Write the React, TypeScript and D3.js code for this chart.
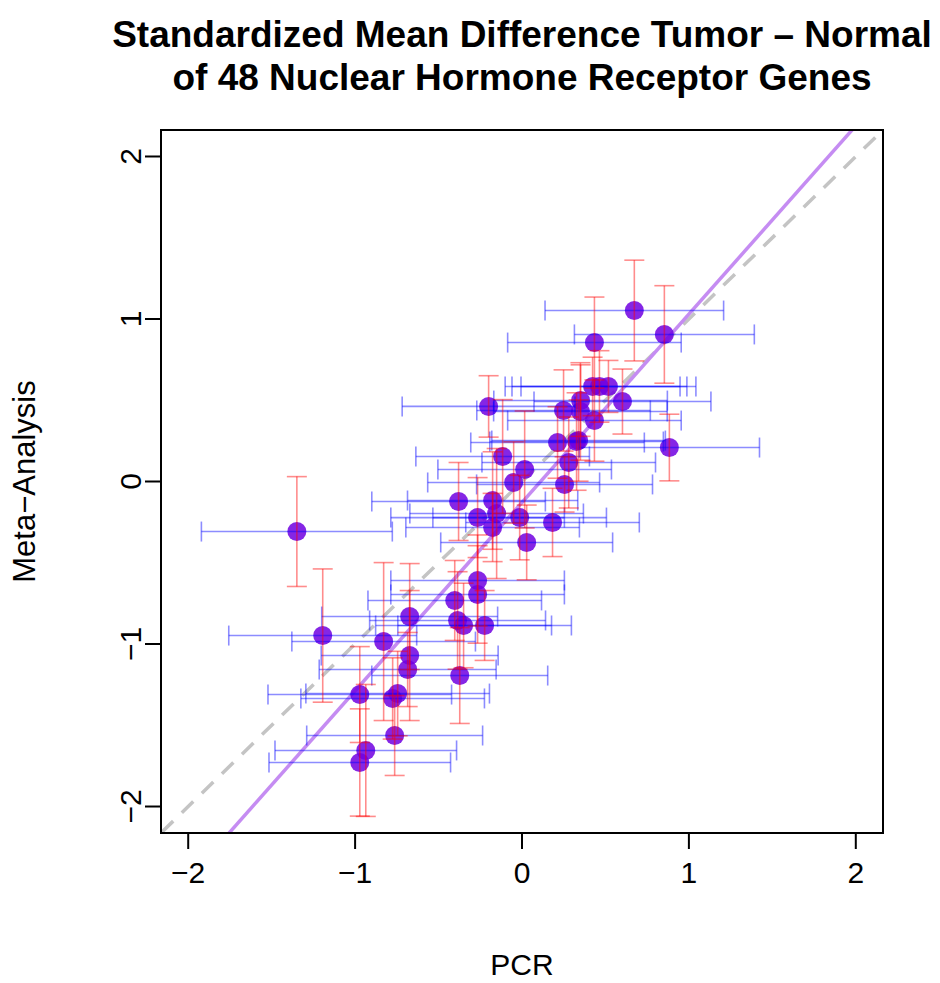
import React from "react";
import * as d3 from "d3";

// PCR standardized mean difference (x) and Meta-analysis SMD (y), with half-widths of CIs
const pcrValues = [0.673, 0.853, 0.434, 0.423, 0.464, 0.518, 0.602, -0.2, 0.351, 0.35, 0.249, 0.434, 0.339, 0.327, 0.213, 0.28, 0.883, -0.116, 0.016, -0.05, 0.255, -0.38, -0.176, -0.266, -0.152, -0.176, -0.014, 0.183, 0.028, -1.349, -0.266, -0.266, -0.403, -0.386, -0.35, -0.224, -0.373, -1.194, -0.829, -0.673, -0.673, -0.685, -0.972, -0.745, -0.775, -0.763, -0.936, -0.972];
const metaValues = [1.052, 0.905, 0.855, 0.585, 0.585, 0.585, 0.492, 0.462, 0.498, 0.431, 0.437, 0.375, 0.252, 0.246, 0.24, 0.117, 0.209, 0.154, 0.074, -0.006, -0.018, -0.123, -0.117, -0.222, -0.197, -0.283, -0.222, -0.252, -0.375, -0.308, -0.609, -0.695, -0.732, -0.855, -0.886, -0.886, -1.194, -0.948, -0.985, -0.831, -1.071, -1.157, -1.311, -1.305, -1.335, -1.563, -1.655, -1.729];
const pcrErr = [0.535, 0.539, 0.52, 0.524, 0.524, 0.524, 0.53, 0.518, 0.52, 0.52, 0.52, 0.52, 0.52, 0.52, 0.52, 0.52, 0.54, 0.52, 0.52, 0.515, 0.527, 0.52, 0.51, 0.52, 0.52, 0.52, 0.52, 0.52, 0.515, 0.572, 0.52, 0.52, 0.52, 0.527, 0.527, 0.52, 0.527, 0.563, 0.55, 0.527, 0.53, 0.53, 0.55, 0.55, 0.55, 0.527, 0.544, 0.544];
const metaErr = [0.31, 0.3, 0.28, 0.18, 0.22, 0.16, 0.2, 0.189, 0.22, 0.3, 0.25, 0.25, 0.25, 0.3, 0.22, 0.28, 0.205, 0.35, 0.36, 0.25, 0.17, 0.24, 0.3, 0.246, 0.4, 0.21, 0.26, 0.21, 0.23, 0.338, 0.28, 0.3, 0.246, 0.3, 0.26, 0.215, 0.295, 0.41, 0.486, 0.326, 0.4, 0.228, 0.295, 0.26, 0.25, 0.246, 0.406, 0.33];

const tickValues = [-2, -1, 0, 1, 2];
const tickLabels = ["\u22122", "\u22121", "0", "1", "2"];
const fitSlope = 1.159;
const fitIntercept = -0.129;

const titleLines = ["Standardized Mean Difference Tumor \u2013 Normal", "of 48 Nuclear Hormone Receptor Genes"];
const xLabel = "PCR";
const yLabel = "Meta\u2212Analysis";

export default function App() {
  const W = 940, H = 983;
  const left = 161, right = 883, top = 130, bottom = 833;
  const lim = 2.163;
  const x = d3.scaleLinear().domain([-lim, lim]).range([left, right]);
  const y = d3.scaleLinear().domain([-lim, lim]).range([bottom, top]);
  const cap = 10;
  const font = "'Liberation Sans', Arial, Helvetica, sans-serif";

  const pts = pcrValues.map((v, i) => ({ x: v, y: metaValues[i], ex: pcrErr[i], ey: metaErr[i] }));
  const lineGen = d3.line<[number, number]>().x(d => x(d[0])).y(d => y(d[1]));
  const ext = [-3, 3];
  const identity = lineGen(ext.map(v => [v, v] as [number, number]));
  const fit = lineGen(ext.map(v => [v, fitIntercept + fitSlope * v] as [number, number]));

  return (
    <svg width={W} height={H} style={{ position: "absolute", left: 0, top: 0, background: "#fff" }} fontFamily={font}>
      <defs>
        <clipPath id="plotclip">
          <rect x={left} y={top} width={right - left} height={bottom - top} />
        </clipPath>
      </defs>
      <rect x={0} y={0} width={W} height={H} fill="#fff" />
      {titleLines.map((t, i) => (
        <text key={i} x={(left + right) / 2} y={47 + i * 43} textAnchor="middle" fontSize={37} fontWeight="bold" fill="#000">{t}</text>
      ))}
      <g clipPath="url(#plotclip)">
        <path d={identity ?? ""} stroke="#c4c4c4" strokeWidth={3.5} strokeDasharray="16,12" fill="none" />
        <path d={fit ?? ""} stroke="#c58cf2" strokeWidth={3.5} fill="none" />
        {pts.map((p, i) => (
          <circle key={"c" + i} cx={x(p.x)} cy={y(p.y)} r={9.5} fill="#7000e0" fillOpacity={0.85} />
        ))}
        {pts.map((p, i) => {
          const cy = y(p.y);
          const x0 = x(p.x - p.ex), x1 = x(p.x + p.ex);
          return (
            <g key={"bx" + i} stroke="#0000ff" strokeOpacity={0.45} strokeWidth={1.6} fill="none">
              <line x1={x0} x2={x1} y1={cy} y2={cy} />
              <line x1={x0} x2={x0} y1={cy - cap} y2={cy + cap} />
              <line x1={x1} x2={x1} y1={cy - cap} y2={cy + cap} />
            </g>
          );
        })}
        {pts.map((p, i) => {
          const cx = x(p.x);
          const y0 = y(p.y - p.ey), y1 = y(p.y + p.ey);
          return (
            <g key={"by" + i} stroke="#ff0000" strokeOpacity={0.45} strokeWidth={1.6} fill="none">
              <line x1={cx} x2={cx} y1={y0} y2={y1} />
              <line x1={cx - cap} x2={cx + cap} y1={y0} y2={y0} />
              <line x1={cx - cap} x2={cx + cap} y1={y1} y2={y1} />
            </g>
          );
        })}
      </g>
      <rect x={left} y={top} width={right - left} height={bottom - top} fill="none" stroke="#000" strokeWidth={2} />
      <g stroke="#000" strokeWidth={2}>
        <line x1={x(-2)} x2={x(2)} y1={bottom} y2={bottom} />
        {tickValues.map((t, i) => (
          <line key={"xt" + i} x1={x(t)} x2={x(t)} y1={bottom} y2={bottom + 16} />
        ))}
        <line x1={left} x2={left} y1={y(-2)} y2={y(2)} />
        {tickValues.map((t, i) => (
          <line key={"yt" + i} x1={left} x2={left - 16} y1={y(t)} y2={y(t)} />
        ))}
      </g>
      {tickValues.map((t, i) => (
        <text key={"xl" + i} x={x(t)} y={883} textAnchor="middle" fontSize={30} fill="#000">{tickLabels[i]}</text>
      ))}
      {tickValues.map((t, i) => (
        <text key={"yl" + i} transform={`translate(${141},${y(t)}) rotate(-90)`} textAnchor="middle" fontSize={30} fill="#000">{tickLabels[i]}</text>
      ))}
      <text x={(left + right) / 2} y={975} textAnchor="middle" fontSize={30} fill="#000">{xLabel}</text>
      <text transform={`translate(${35},${(top + bottom) / 2}) rotate(-90)`} textAnchor="middle" fontSize={31} fill="#000">{yLabel}</text>
    </svg>
  );
}
